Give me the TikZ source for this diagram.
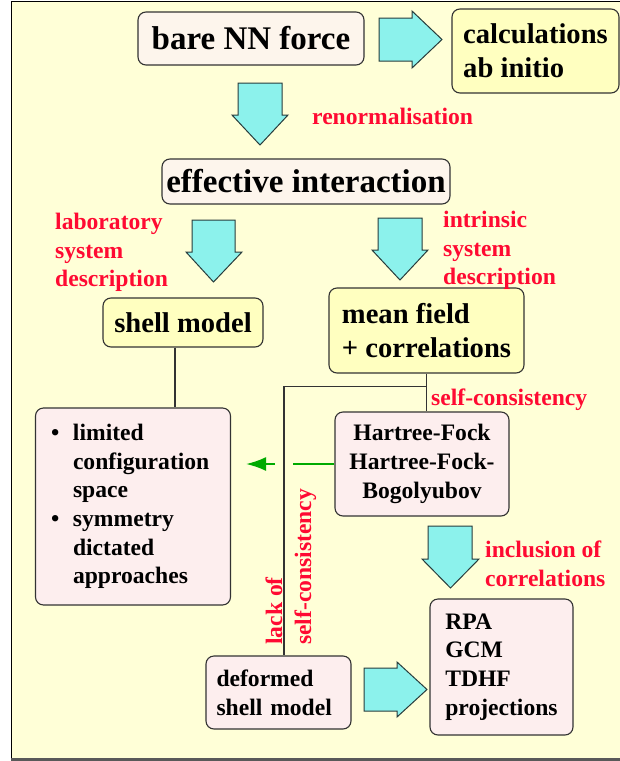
\documentclass[tikz,border=0pt]{standalone}
\usepackage{fontspec}
\setmainfont{Liberation Serif}
\usetikzlibrary{arrows.meta,calc}
\definecolor{bg}{RGB}{255,255,215}
\definecolor{cream}{RGB}{253,245,236}
\definecolor{yel}{RGB}{255,255,192}
\definecolor{pinkbox}{RGB}{253,238,238}
\definecolor{cyanarr}{RGB}{140,242,236}
\definecolor{arredge}{RGB}{40,60,60}
\definecolor{redtxt}{RGB}{255,10,50}
\definecolor{greenarr}{RGB}{0,170,0}
\newcommand{\Fbig}{\fontsize{33}{40}\selectfont\bfseries}
\newcommand{\Fmid}{\fontsize{28.6}{34}\selectfont\bfseries}
\newcommand{\Fsmall}{\fontsize{23.6}{28.6}\selectfont\bfseries}
\tikzset{
  box/.style={draw=black!80, line width=1.1pt, rounded corners=8pt, inner sep=0pt},
  blockarrow/.style={draw=arredge, fill=cyanarr, line width=1pt, line join=miter},
  lbl/.style={text=redtxt, font=\Fsmall, inner sep=0pt, align=left},
  link/.style={draw=black!80, line width=1.2pt},
  gline/.style={draw=greenarr, line width=2pt},
}
\begin{document}
\begin{tikzpicture}[x=1pt,y=-1pt]
\useasboundingbox (0,0) rectangle (620,761);
\begin{scope}
\clip (0,0) rectangle (620,761);
\fill[bg] (11,1) rectangle (640,758);
\draw[black, line width=1pt] (640,1) -- (11,1) -- (11,758);
\draw[black!65, line width=2.5pt] (11,759.5) -- (640,759.5);

% boxes
\node[box, fill=cream, minimum width=226, minimum height=53, font=\Fbig] (bare) at (251,38.5) {bare NN force};
\node[box, fill=yel, minimum width=167, minimum height=84, font=\Fmid, align=left] (calc) at (535.5,51) {calculations\\ab initio};
\node[box, fill=cream, minimum width=288, minimum height=45, font=\Fbig] (eff) at (306,181.5) {effective interaction};
\node[box, fill=yel, minimum width=160, minimum height=49, font=\Fmid] (shell) at (183,322.5) {shell model};
\node[box, fill=yel, minimum width=195, minimum height=85, font=\Fmid, align=left] (mean) at (426.5,330.5) {mean field\\+ correlations};
\node[box, fill=pinkbox, minimum width=195, minimum height=197, font=\Fsmall, align=left, text width=164] (limited) at (133,506.5)
  {\begin{tabular}{@{}p{22pt}@{}l@{}}
   \textbullet & limited\\ & configuration\\ & space\\
   \textbullet & symmetry\\ & dictated\\ & approaches
   \end{tabular}};
\node[box, fill=pinkbox, minimum width=174, minimum height=104, font=\Fsmall, align=center] (HF) at (422,464) {Hartree-Fock\\Hartree-Fock-\\Bogolyubov};
\node[box, fill=pinkbox, minimum width=145, minimum height=73, font=\Fsmall, align=left, text width=124] (deformed) at (278.5,692.5) {deformed\\shell model};
\node[box, fill=pinkbox, minimum width=143, minimum height=136, font=\Fsmall, align=left] (RPA) at (501.5,667) {RPA\\GCM\\TDHF\\projections};

% block arrows
\draw[blockarrow] (379,18) -- (412,18) -- (412,11) -- (442,39.5) -- (412,68) -- (412,61) -- (379,61) -- cycle;
\draw[blockarrow] (238,83) -- (282,83) -- (282,115) -- (288,115) -- (260,145) -- (232,115) -- (238,115) -- cycle;
\draw[blockarrow] (192,220) -- (235,220) -- (235,252) -- (242,252) -- (213.5,282) -- (186,252) -- (192,252) -- cycle;
\draw[blockarrow] (378,218) -- (422,218) -- (422,250) -- (428,250) -- (400,280) -- (372,250) -- (378,250) -- cycle;
\draw[blockarrow] (428,526) -- (472,526) -- (472,559) -- (479,559) -- (450.5,588) -- (422,559) -- (428,559) -- cycle;
\draw[blockarrow] (364,668) -- (397,668) -- (397,662) -- (427,689.5) -- (397,717) -- (397,711) -- (364,711) -- cycle;

% connectors
\coordinate (sx) at (175,0);
\draw[link] (shell.south -| sx) -- (limited.north -| sx);
\draw[link] (mean.south) -- (mean.south |- HF.north);
\path (mean.south) ++(0,13) coordinate (split);
\coordinate (dtop) at ($(deformed.north)+(5.5,0)$);
\draw[link] (split) -| (dtop);
\coordinate (gtip) at ($(HF.west -| limited.east)+(15,0)$);
\coordinate (gap1) at ($(HF.west -| dtop)+(9,0)$);
\coordinate (gap2) at ($(HF.west -| dtop)+(-9,0)$);
\draw[gline] (HF.west) -- (gap1);
\draw[gline, -{Latex[length=20pt,width=14pt]}] (gap2) -- (gtip);

% red labels
\node[lbl, anchor=base west] (renorm) at (312,124) {renormalisation};
\node[lbl, anchor=north west] (lab) at (55,213) {laboratory\\system\\description};
\node[lbl, anchor=north west] (intr) at (443,211) {intrinsic\\system\\description};
\node[lbl, anchor=base west] (selfc) at (431,405) {self-consistency};
\node[lbl, anchor=north west] (incl) at (485,541) {inclusion of\\correlations};
\node[lbl, anchor=base west, rotate=90] (lack1) at (282,645) {lack of};
\node[lbl, anchor=base west, rotate=90] (lack2) at (311,645) {self-consistency};
\end{scope}
\end{tikzpicture}
\end{document}
